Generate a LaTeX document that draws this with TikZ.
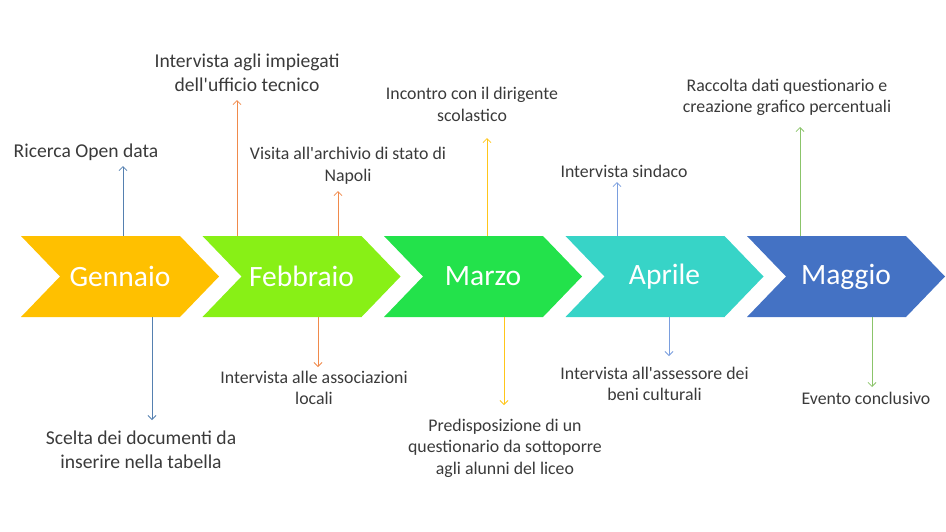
\documentclass[tikz,border=0pt]{standalone}
\usepackage{fontspec}
\setmainfont{Carlito}[Ligatures=TeXOff]
\usetikzlibrary{arrows.meta}

\definecolor{gen}{HTML}{FFC000}
\definecolor{feb}{HTML}{88F016}
\definecolor{mar}{HTML}{23E24B}
\definecolor{apr}{HTML}{37D4C7}
\definecolor{mag}{HTML}{4472C4}
\definecolor{genline}{HTML}{5580B0}
\definecolor{febline}{HTML}{F08A4B}
\definecolor{marline}{HTML}{FFC61A}
\definecolor{aprline}{HTML}{7A9EDE}
\definecolor{magline}{HTML}{8BC46A}
\definecolor{txt}{HTML}{3A3A3A}

\begin{document}
\begin{tikzpicture}[x=1pt,y=-1pt,
    month/.style={minimum width=198pt,minimum height=81pt,inner sep=0pt,text=white,
      font=\fontsize{29.5}{34}\selectfont},
    note/.style={align=center,text=txt,inner sep=0pt,font=\fontsize{17.8}{21.5}\selectfont},
    bignote/.style={note,font=\fontsize{19.6}{23.5}\selectfont},
    tick/.style={-{Straight Barb[length=4pt,width=8pt]},line width=0.8pt}]
  \useasboundingbox (0,0) rectangle (946,531);
%
  % the five months
  \foreach \x/\c/\n/\name in {21/gen/gennaio/Gennaio,202.5/feb/febbraio/Febbraio,
      384/mar/marzo/Marzo,565.5/apr/aprile/Aprile,747/mag/maggio/Maggio}{
    \fill[\c] (\x,236) -- ++(159,0) -- ++(39,40.5) -- ++(-39,40.5) -- ++(-159,0) -- ++(39,-40.5) -- cycle;
    \node[month] (\n) at (\x+99,276.5) {\name};
  }
%
  % notes above
  \node[bignote] (ricerca) at (86,152) {Ricerca Open data};
  \node[bignote] (impiegati) at (247,73) {Intervista agli impiegati\\dell'ufficio tecnico};
  \node[note] (archivio) at (348,165.5) {Visita all'archivio di stato di\\Napoli};
  \node[note] (incontro) at (472,104.5) {Incontro con il dirigente\\scolastico};
  \node[note] (sindaco) at (624,171) {Intervista sindaco};
  \node[note] (raccolta) at (787,97.5) {Raccolta dati questionario e\\creazione grafico percentuali};
%
  % notes below
  \node[bignote] (scelta) at (141,450) {Scelta dei documenti da\\inserire nella tabella};
  \node[note] (associazioni) at (314,388) {Intervista alle associazioni\\locali};
  \node[note] (questionario) at (505,448) {Predisposizione di un\\questionario da sottoporre\\agli alunni del liceo};
  \node[note] (assessore) at (654.5,384) {Intervista all'assessore dei\\beni culturali};
  \node[note] (evento) at (866,398) {Evento conclusivo};
%
  % arrow tips
  \coordinate (upA) at (123,166);
  \coordinate (upB) at (237,100);
  \coordinate (upC) at (338,191);
  \coordinate (upD) at (487,138);
  \coordinate (upE) at (617,182);
  \coordinate (upF) at (800,127);
  \coordinate (downA) at (152,420);
  \coordinate (downB) at (318,367);
  \coordinate (downC) at (504,405);
  \coordinate (downD) at (669,356);
  \coordinate (downE) at (872,387);
%
  \draw[tick,genline] (gennaio.north -| upA) -- (upA);
  \draw[tick,genline] (gennaio.south -| downA) -- (downA);
  \draw[tick,febline] (febbraio.north -| upB) -- (upB);
  \draw[tick,febline] (febbraio.north -| upC) -- (upC);
  \draw[tick,febline] (febbraio.south -| downB) -- (downB);
  \draw[tick,marline] (marzo.north -| upD) -- (upD);
  \draw[tick,marline] (marzo.south -| downC) -- (downC);
  \draw[tick,aprline] (aprile.north -| upE) -- (upE);
  \draw[tick,aprline] (aprile.south -| downD) -- (downD);
  \draw[tick,magline] (maggio.north -| upF) -- (upF);
  \draw[tick,magline] (maggio.south -| downE) -- (downE);
\end{tikzpicture}
\end{document}
